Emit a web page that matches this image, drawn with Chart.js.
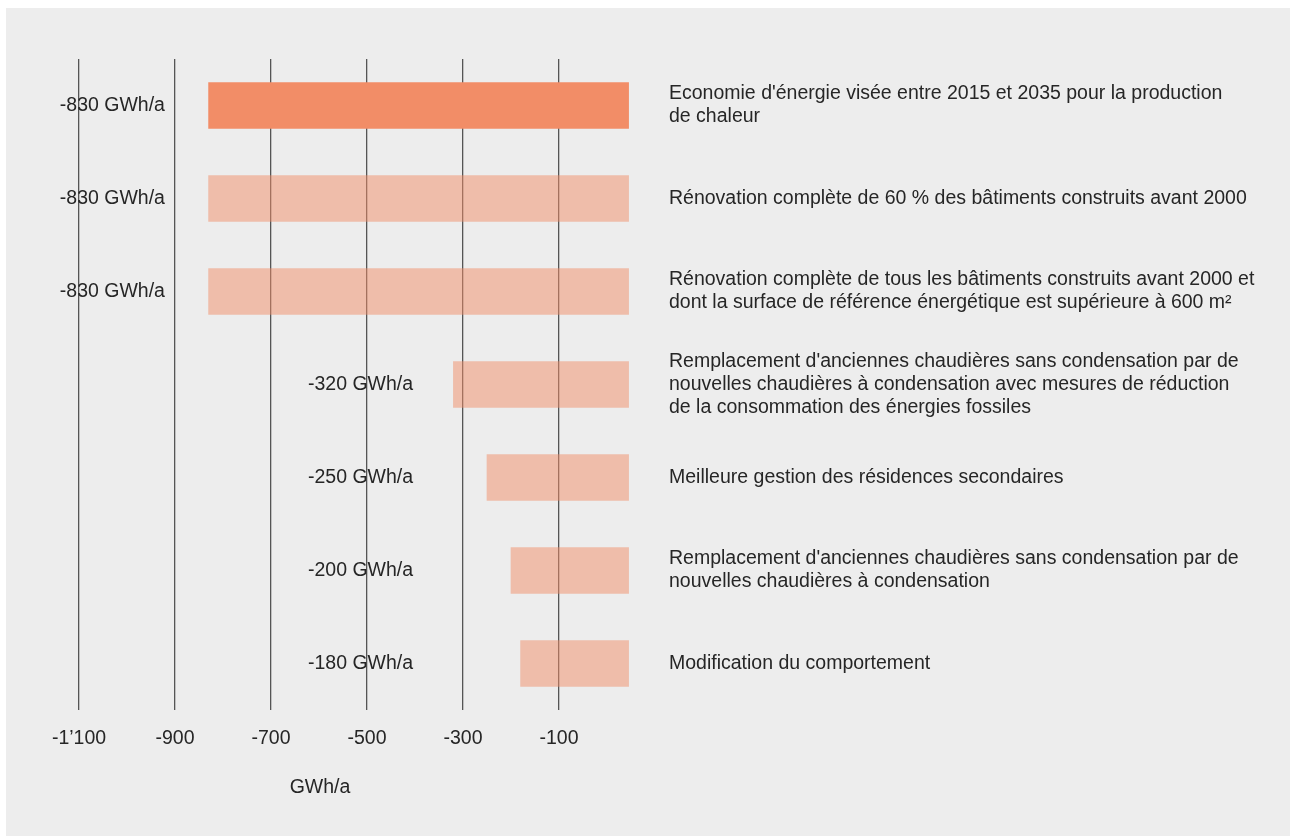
<!DOCTYPE html>
<html lang="fr">
<head>
<meta charset="utf-8">
<title>Economie d'énergie pour la production de chaleur</title>
<script src="https://cdn.jsdelivr.net/npm/chart.js@4"></script>
<style>
  html, body { margin: 0; padding: 0; background: #ffffff; }
  #panel {
    position: absolute;
    left: 6px;
    top: 8px;
    width: 1284px;
    height: 828px;
    background: #ededed;
  }
</style>
</head>
<body>
<div id="panel"><canvas id="savings-chart" width="1284" height="828"></canvas></div>
<script>
// measures, top to bottom
const measures = [
  ["Economie d'énergie visée entre 2015 et 2035 pour la production", "de chaleur"],
  ["Rénovation complète de 60 % des bâtiments construits avant 2000"],
  ["Rénovation complète de tous les bâtiments construits avant 2000 et",
   "dont la surface de référence énergétique est supérieure à 600 m²"],
  ["Remplacement d'anciennes chaudières sans condensation par de",
   "nouvelles chaudières à condensation avec mesures de réduction",
   "de la consommation des énergies fossiles"],
  ["Meilleure gestion des résidences secondaires"],
  ["Remplacement d'anciennes chaudières sans condensation par de",
   "nouvelles chaudières à condensation"],
  ["Modification du comportement"],
];

// savings in GWh/a
const savings = [-830, -830, -830, -320, -250, -200, -180];

const tickValues = [-1100, -900, -700, -500, -300, -100];

const FONT = "'Liberation Sans', Arial, sans-serif";
const SIZE = 19.5;
const TEXT = "#262626";

const fmt = (v) => {
  const s = String(Math.abs(v)).replace(/\B(?=(\d{3})+(?!\d))/g, "’");
  return (v < 0 ? "-" : "") + s;
};

const valueLabels = {
  id: "valueLabels",
  afterDraw(chart) {
    const ctx = chart.ctx;
    const x = chart.scales.x;
    const meta = chart.getDatasetMeta(0);
    ctx.save();
    ctx.font = SIZE + "px " + FONT;
    ctx.fillStyle = TEXT;
    ctx.textAlign = "right";
    ctx.textBaseline = "middle";
    meta.data.forEach((bar, i) => {
      const v = savings[i];
      const anchor = v < -500 ? -921 : -404;
      ctx.fillText(v + " GWh/a", x.getPixelForValue(anchor), bar.y);
    });
    // unit under the axis
    ctx.textAlign = "center";
    ctx.fillText("GWh/a", chart.chartArea.left + 241, 780);
    ctx.restore();
  },
};

const ctx = document.getElementById("savings-chart").getContext("2d");
const chart = new Chart(ctx, {
  type: "bar",
  data: {
    labels: measures,
    datasets: [
      {
        data: savings,
        base: 45,
        barThickness: 46,
        backgroundColor: savings.map((v, i) =>
          i === 0 ? "#f28d67" : "rgba(242, 141, 103, 0.5)"
        ),
        borderWidth: 0,
      },
    ],
  },
  options: {
    indexAxis: "y",
    responsive: false,
    animation: false,
    layout: {
      padding: { top: 51, left: 73, right: 0, bottom: 0 },
    },
    plugins: {
      legend: { display: false },
      tooltip: { enabled: false },
    },
    scales: {
      x: {
        min: -1100,
        max: 50,
        afterBuildTicks: (scale) => {
          scale.ticks = tickValues.map((v) => ({ value: v }));
        },
        afterFit: (scale) => {
          scale.height = 126;
        },
        grid: {
          color: "#555555",
          lineWidth: 1.3,
          drawTicks: false,
        },
        border: { display: false },
        ticks: {
          padding: 17,
          color: TEXT,
          font: { family: FONT, size: SIZE },
          maxRotation: 0,
          callback: (v) => fmt(v),
        },
      },
      y: {
        position: "right",
        afterFit: (scale) => {
          scale.width = 659;
        },
        grid: { display: false, drawTicks: false },
        border: { display: false },
        ticks: {
          padding: 38,
          crossAlign: "near",
          color: TEXT,
          font: { family: FONT, size: SIZE, lineHeight: 1.18 },
        },
      },
    },
  },
  plugins: [valueLabels],
});
</script>
</body>
</html>
